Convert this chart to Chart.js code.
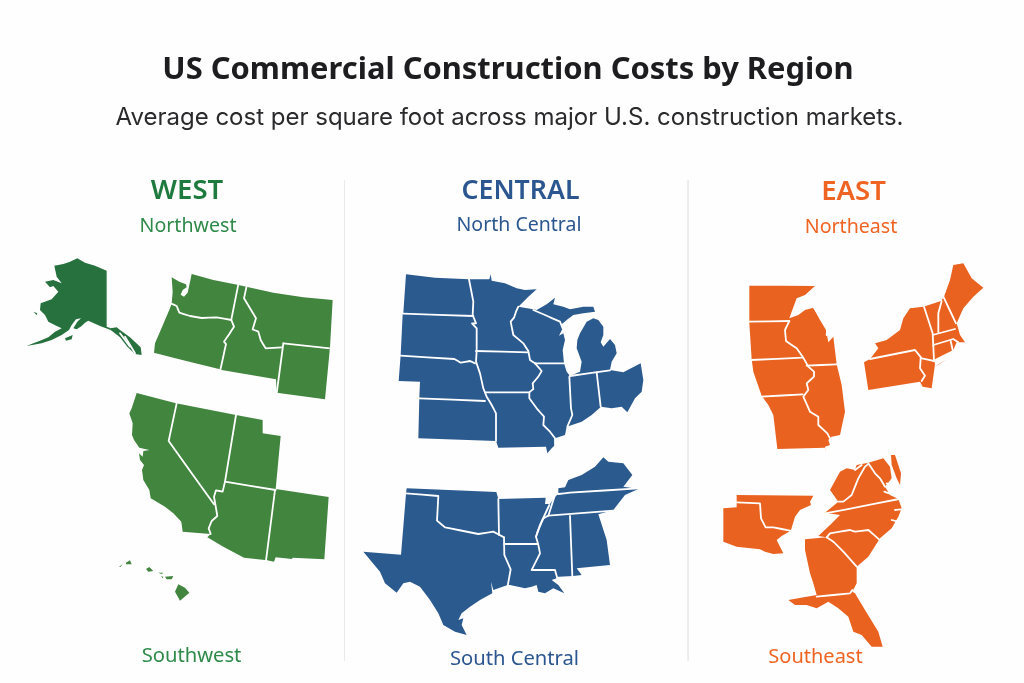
<!DOCTYPE html>
<html><head><meta charset="utf-8">
<script src="https://cdn.jsdelivr.net/npm/chart.js@4"></script>
<style>
html,body{margin:0;padding:0;background:#fefefe;width:1024px;height:683px;overflow:hidden}
#c{position:absolute;left:0;top:0}
.t{position:absolute;white-space:nowrap;transform:translate(-50%,-50%);line-height:1}
</style></head><body>
<canvas id="c" width="1024" height="683"></canvas>
<script>
// Sheet frames for the outlines (outlines traced at 3 units per map unit)
const frameNW=[20,250], frameSW=[110,385], frameNC=[390,265], frameSC=[355,450], frameNE=[740,255], frameSE=[715,450];

// ---- West
const alaska=[103,47,130,42,150,35,172,25,195,38,225,47,260,62,260,230,272,235,290,232,300,240,330,262,362,292,365,315,345,312,322,290,300,262,272,240,240,228,205,212,195,218,185,228,170,238,160,235,172,215,183,205,168,208,155,225,147,240,125,255,95,270,65,280,20,288,40,280,60,272,85,262,105,245,125,235,110,228,85,215,75,195,60,180,62,160,95,148,115,125,100,108,90,112,75,95,100,90,125,100,110,80];
const alaskaIsle1=[135,265,158,255,155,268,138,272];
const alaskaIsle2=[40,185,52,190,50,195];
const northwestOutline=[455,82,478,95,498,103,500,112,488,120,482,134,492,140,503,128,508,105,515,72,580,90,652,104,760,128,850,142,938,150,930,292,915,448,770,428,768,388,605,360,600,358,520,338,460,323,402,308,405,280,418,250,435,210,450,175,455,160,458,125];
const nwBorders=[
 [655,103,634,208],
 [452,160,470,168,478,188,510,198,545,204,590,202,634,210],
 [634,210,642,230,628,252,612,275,618,282,601,360],
 [680,108,672,145,690,175,708,205,698,238,715,245,722,270,737,295,785,292],
 [790,280,930,295],
 [790,280,770,430]
];
const akBorders=[[300,250,330,290],[315,260,345,310]];
const southwestOutline=[80,24,198,55,378,90,458,105,458,145,512,153,497,312,656,336,643,523,548,518,546,522,497,517,492,530,472,526,402,518,340,485,292,457,302,447,218,440,214,410,190,385,165,365,122,340,118,315,100,285,96,255,102,240,90,225,87,205,98,215,100,198,118,195,88,188,72,165,66,150,68,115,58,85,65,70];
const swBorders=[
 [200,55,176,168,312,358],
 [378,90,345,290,338,320,318,316,312,335,316,358,322,393,305,408,296,430,302,447],
 [345,290,497,315],
 [495,315,468,527]
];
const hawaii1=[48,533,60,526,65,538,48,538];
const hawaii2=[108,552,118,546,130,558,115,560];
const hawaii3=[165,575,190,573,185,583,170,583];
const hawaii4=[205,598,225,608,238,623,210,647,195,620];
const hawaii5=[145,563,160,563,155,567];
const hawaii6=[27,545,38,538,31,546];
const hawaii7=[153,574,160,575,158,580];

// ---- Central
const northCentralOutline=[48,28,135,38,237,43,298,43,302,28,305,47,345,55,380,70,405,75,440,73,415,95,385,125,425,132,440,135,470,118,495,98,490,118,520,125,540,133,580,125,610,125,615,140,580,145,550,150,530,165,515,178,518,190,507,212,520,205,525,225,518,255,522,295,530,320,540,333,570,320,575,290,560,250,562,225,570,205,590,170,610,160,625,165,640,185,640,210,632,232,640,245,660,222,675,240,680,265,665,290,660,315,700,322,752,295,760,345,755,380,735,400,712,442,695,425,665,430,633,425,605,450,575,470,537,483,530,485,525,510,495,520,495,540,485,550,472,565,468,545,325,548,318,528,85,520,88,397,90,350,26,348,32,270,38,148,40,143];
const ncBorders=[
 [40,146,250,153],
 [237,43,250,110,248,150,258,175,246,175,260,190,260,258],
 [32,272,193,282,212,293,240,288,255,295],
 [260,258,258,290,270,325,280,370,290,395,305,420,318,445,318,528],
 [88,400,285,408],
 [258,258,415,262],
 [385,125,378,140,372,158,362,170,370,210,400,235,415,258,420,285,435,295],
 [435,295,522,295],
 [435,295,455,318,445,335,428,355,430,372,418,382,418,400,440,430,462,455,460,480,480,500,495,520,495,540],
 [285,382,418,382],
 [430,135,465,150,510,170,518,190],
 [538,335,543,430,547,450,532,485],
 [620,322,632,425],
 [540,333,660,316]
];
const southCentralOutline=[155,115,424,126,430,147,572,143,570,162,585,162,600,140,610,132,610,115,630,112,640,90,680,75,720,50,745,22,760,35,805,40,832,75,805,110,850,117,810,135,775,180,730,193,755,270,765,345,665,355,680,375,655,378,610,380,605,385,590,390,610,405,628,430,595,415,570,430,550,425,545,405,530,410,510,415,465,405,458,405,430,415,415,420,408,395,412,430,375,450,345,470,320,490,310,510,325,505,320,525,335,555,300,545,265,525,250,490,225,450,195,410,165,395,145,400,125,428,90,400,75,365,25,305,138,314,153,132];
const scBorders=[
 [153,130,250,138,246,212,270,232,310,240,370,252,415,245,447,262],
 [430,147,432,255],
 [447,262,448,315,467,358,458,408],
 [448,282,548,282],
 [583,165,555,225,543,260,550,285,555,310,540,340,530,360,600,360,607,385],
 [645,198,652,378],
 [580,197,775,182],
 [610,132,645,128,850,115],
 [600,135,580,197,565,205,548,245,543,260]
];

// ---- East
const eastMidwestOutline=[28,92,130,92,225,93,195,120,170,130,155,170,148,190,175,180,195,165,220,158,240,195,258,225,265,262,280,245,290,328,305,390,315,470,300,540,275,545,265,555,270,570,255,575,258,590,255,578,112,582,100,480,85,450,65,422,40,350,35,313,28,205];
const emBorders=[
 [26,200,148,198],
 [148,198,135,225,138,258,170,280,188,305,205,335,222,350,222,365,200,385,205,405,190,425,210,470,235,485,235,510,262,535,270,550],
 [34,315,188,308],
 [200,332,290,328],
 [65,425,188,418],
 [222,158,262,215,260,240]
];
const northeastOutline=[372,322,390,312,415,280,405,265,440,255,480,225,490,190,510,160,550,155,603,138,612,125,630,75,640,30,670,25,695,70,730,98,700,125,670,160,650,205,660,240,675,262,650,262,640,285,590,310,582,315,585,328,575,400,548,395,540,380,385,405];
const neBorders=[
 [552,155,578,235,582,315],
 [605,138,595,175,595,232],
 [610,125,648,205],
 [578,240,645,222],
 [580,270,640,252,655,262],
 [632,258,638,285],
 [390,312,525,285,545,310,582,318],
 [542,310,540,340,555,362,545,378]
];
const longIsland=[585,335,620,312,598,328];
const gulfOutline=[65,135,295,137,285,155,288,165,255,180,240,200,228,240,222,245,200,258,185,270,195,290,205,310,175,312,150,305,135,298,65,290,25,275,25,175,65,172];
const gulfBorders=[[65,157,135,160,138,205,152,232,175,232,225,242]];
const southeastOutline=[345,120,375,65,395,55,420,60,425,45,460,38,505,25,525,50,530,85,510,110,525,135,550,147,560,175,550,200,530,235,495,265,460,320,425,350,425,400,412,425,420,430,450,480,490,545,503,590,470,590,440,555,415,545,400,500,370,475,340,455,305,475,275,465,240,465,220,450,305,435,295,400,285,370,270,300,270,268,335,262,310,258,345,225,375,195,330,188,370,155];
const seBorders=[
 [370,155,385,155,410,135,430,85,450,50,460,42],
 [420,60,440,45],
 [460,40,480,70,495,85,510,110],
 [330,190,395,178,552,147],
 [335,262,345,250,405,240,420,245,460,240,492,268],
 [335,262,355,275,385,305,425,350],
 [305,440,405,430,412,420],
 [508,125,528,132],[515,100,530,108],[540,180,560,178],[530,210,550,215]
];
const delaware=[528,15,540,15,558,70,555,105,545,85,530,45];

const westGreen='#41853f', alaskaGreen='#27713f', centralBlue='#2b5a8f', eastOrange='#e9621f';

const regions=[
 [frameNW,alaskaGreen,[alaska,alaskaIsle1,alaskaIsle2],akBorders],
 [frameNW,westGreen,[northwestOutline],nwBorders],
 [frameSW,westGreen,[southwestOutline,hawaii1,hawaii2,hawaii3,hawaii4,hawaii5,hawaii6,hawaii7],swBorders],
 [frameNC,centralBlue,[northCentralOutline],ncBorders],
 [frameSC,centralBlue,[southCentralOutline],scBorders],
 [frameNE,eastOrange,[eastMidwestOutline],emBorders],
 [frameNE,eastOrange,[northeastOutline,longIsland],neBorders],
 [frameSE,eastOrange,[gulfOutline],gulfBorders],
 [frameSE,eastOrange,[southeastOutline,delaware],seBorders]
];

const titleText='US Commercial Construction Costs by Region';
const subtitleText='Average cost per square foot across major U.S. construction markets.';
const labels=[
 ['WEST',187,188,'#1f7a3f',27.5,600],['Northwest',188,224,'#2f8a4a',19.6,400],['Southwest',191.5,654,'#2f8a4a',20.2,400],
 ['CENTRAL',520.5,188,'#2b5690',26.7,600],['North Central',519,223,'#2b5690',19.5,400],['South Central',514.5,657,'#2b5690',20.2,400],
 ['EAST',853.5,189,'#ef6422',27.5,600],['Northeast',851,225,'#ef6422',19.6,400],['Southeast',815.5,655,'#ef6422',20,400]
];

function addText(s,x,y,color,size,weight,font){
  const d=document.createElement('div');d.className='t';d.textContent=s;
  d.style.cssText+=`left:${x}px;top:${y}px;color:${color};font:${weight} ${size}px ${font}`;
  document.body.appendChild(d);
}
addText(titleText,508,67,'#1d1d1f',30.9,700,'"Noto Sans"');
addText(subtitleText,509.5,116,'#2a2a2c',24,400,'Inter');
labels.forEach(l=>addText(l[0],l[1],l[2],l[3],l[4],l[5],'"Noto Sans"'));

function toPoints(f,a){
  const pts=[];
  for(let i=0;i<a.length;i+=2)pts.push({x:f[0]+a[i]/3,y:f[1]+a[i+1]/3});
  return pts;
}
const lineSets=[], fillSets=[];
regions.forEach(([f,color,fills,borders])=>{
  fills.forEach(a=>fillSets.push({data:toPoints(f,a),showLine:false,fillColor:color,pointRadius:0}));
  borders.forEach(a=>lineSets.push({data:toPoints(f,a),showLine:true,borderColor:'#ffffff',borderWidth:1.8,pointRadius:0,tension:0.001,borderJoinStyle:'round',borderCapStyle:'round'}));
});
// vertical dividers between the three regions
const dividers=[344.5,688].map(x=>({data:[{x,y:180},{x,y:661}],showLine:true,borderColor:'#e8eaec',borderWidth:1,pointRadius:0}));
// Chart.js paints the first dataset last, so lines come before the fills they sit on
const datasets=[...lineSets,...dividers,...fillSets];

const fillShape={id:'fillShape',beforeDatasetDraw(chart,args){
  const ds=chart.data.datasets[args.index];if(!ds.fillColor)return;
  const c=chart.ctx,m=args.meta.data;c.save();c.beginPath();
  m.forEach((p,i)=>i?c.lineTo(p.x,p.y):c.moveTo(p.x,p.y));
  c.closePath();c.fillStyle=ds.fillColor;c.fill();c.restore();
}};
new Chart(document.getElementById('c'),{type:'scatter',data:{datasets},plugins:[fillShape],options:{
  responsive:false,animation:false,layout:{padding:0},
  plugins:{legend:{display:false},tooltip:{enabled:false}},
  scales:{x:{type:'linear',min:0,max:1024,display:false},y:{type:'linear',min:0,max:683,reverse:true,display:false}}
}});
</script>
</body></html>
